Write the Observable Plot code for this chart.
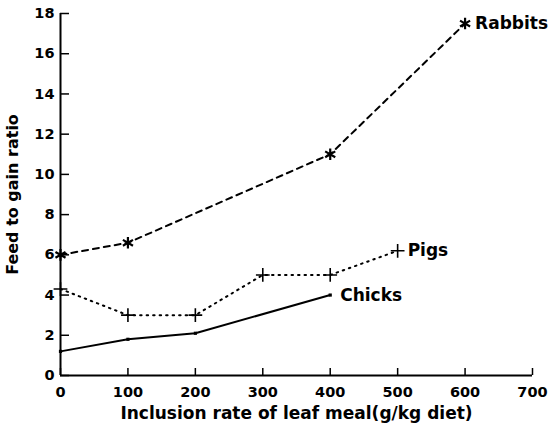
<!DOCTYPE html>
<html>
<head>
<meta charset="utf-8">
<script src="https://cdn.jsdelivr.net/npm/d3@7"></script>
<script src="https://cdn.jsdelivr.net/npm/@observablehq/plot@0.6"></script>
<style>
  html, body { margin: 0; padding: 0; background: #fff; }
</style>
</head>
<body>
<div id="chart"></div>
<script>
const rabbitsX = [0, 100, 400, 600];
const rabbitsY = [6.0, 6.6, 11.0, 17.5];
const pigsX = [0, 100, 200, 300, 400, 500];
const pigsY = [4.3, 3.0, 3.0, 5.0, 5.0, 6.2];
const chicksX = [0, 100, 200, 400];
const chicksY = [1.2, 1.8, 2.1, 4.0];
const xTicks = [0, 100, 200, 300, 400, 500, 600, 700];
const yTicks = [0, 2, 4, 6, 8, 10, 12, 14, 16, 18];
const seriesLabels = ["Rabbits", "Pigs", "Chicks"];

const rabbits = rabbitsX.map((x, i) => ({x, y: rabbitsY[i]}));
const pigs = pigsX.map((x, i) => ({x, y: pigsY[i]}));
const chicks = chicksX.map((x, i) => ({x, y: chicksY[i]}));
const ends = [
  {...rabbits[rabbits.length - 1], label: seriesLabels[0]},
  {...pigs[pigs.length - 1], label: seriesLabels[1]},
  {...chicks[chicks.length - 1], label: seriesLabels[2]}
];

const chart = Plot.plot({
  width: 553,
  height: 439,
  marginTop: 13,
  marginRight: 21,
  marginBottom: 64,
  marginLeft: 60,
  style: {fontFamily: "'DejaVu Sans', sans-serif", fontWeight: "bold", color: "#000", background: "#fff"},
  x: {domain: [0, 700]},
  y: {domain: [0, 18]},
  marks: [
    Plot.axisX({ticks: xTicks, tickSize: 0, tickPadding: 11, fontSize: 14.5,
      label: "Inclusion rate of leaf meal(g/kg diet)", labelAnchor: "center", labelArrow: "none", labelOffset: 43}),
    Plot.axisX({ticks: xTicks, tickSize: -7, tickFormat: () => "", strokeWidth: 1.5, label: null}),
    Plot.axisY({ticks: yTicks, tickSize: 0, tickPadding: 6, fontSize: 14.5,
      label: "Feed to gain ratio", labelAnchor: "center", labelArrow: "none", labelOffset: 54}),
    Plot.axisY({ticks: yTicks, tickSize: -9, tickFormat: () => "", strokeWidth: 1.5, label: null}),
    Plot.ruleX([0], {strokeWidth: 2}),
    Plot.ruleY([0], {strokeWidth: 2}),
    Plot.line(rabbits, {x: "x", y: "y", strokeWidth: 2, strokeDasharray: "6,5"}),
    Plot.dot(rabbits, {x: "x", y: "y", symbol: "asterisk", r: 5.5, stroke: "#000", strokeWidth: 2.2}),
    Plot.line(pigs, {x: "x", y: "y", strokeWidth: 2, strokeDasharray: "1.5,5"}),
    Plot.dot(pigs, {x: "x", y: "y", symbol: "plus", r: 4.5, stroke: "#000", strokeWidth: 1.6}),
    Plot.line(chicks, {x: "x", y: "y", strokeWidth: 2}),
    Plot.dot(chicks, {x: "x", y: "y", symbol: "square", r: 1.8, fill: "#000"}),
    Plot.text(ends, {x: "x", y: "y", text: "label", textAnchor: "start", dx: 10, fontSize: 17, fontWeight: "bold"})
  ]
});
chart.querySelectorAll("g[aria-label='x-axis label']").forEach(e => e.setAttribute("font-size", 17));
chart.querySelectorAll("g[aria-label='y-axis label']").forEach(e => e.setAttribute("font-size", 16));
document.getElementById("chart").appendChild(chart);
</script>
</body>
</html>
